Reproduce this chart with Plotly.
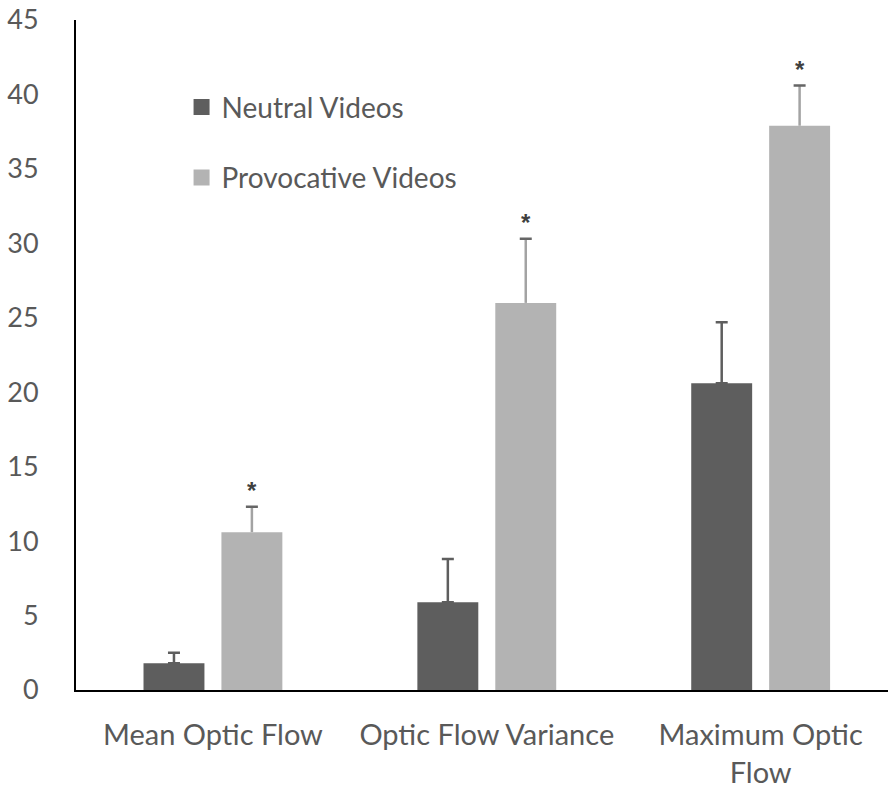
import plotly.graph_objects as go

categories = ["Mean Optic Flow", "Optic Flow Variance", "Maximum Optic<br>Flow"]
neutral_vals = [1.8, 5.9, 20.6]
neutral_err = [0.7, 2.9, 4.1]
provoc_vals = [10.6, 26.0, 37.9]
provoc_err = [1.7, 4.3, 2.7]
sig_marks = ["*", "*", "*"]
y_ticks = [0, 5, 10, 15, 20, 25, 30, 35, 40, 45]

FONT = "Lato"
TXT = "#595959"
C_NEU = "#5e5e5e"
C_PRO = "#b3b3b3"

fig = go.Figure()
fig.add_trace(go.Bar(
    name="Neutral Videos", x=categories, y=neutral_vals, offsetgroup="a",
    marker=dict(color=C_NEU, line=dict(width=0)),
    error_y=dict(type="data", array=neutral_err, symmetric=False, arrayminus=[0]*3,
                 color=C_NEU, thickness=2.5, width=6),
    showlegend=False, hoverinfo="skip",
))
fig.add_trace(go.Bar(
    name="Provocative Videos", x=categories, y=provoc_vals, offsetgroup="b",
    marker=dict(color=C_PRO, line=dict(width=0)),
    error_y=dict(type="data", array=provoc_err, symmetric=False, arrayminus=[0]*3,
                 color="#a3a3a3", thickness=2.5, width=0),
    showlegend=False, hoverinfo="skip",
))
# dark caps on top of the provocative error stems
fig.add_trace(go.Bar(
    x=categories, y=[v + e for v, e in zip(provoc_vals, provoc_err)], offsetgroup="b",
    marker=dict(color="rgba(0,0,0,0)", line=dict(width=0)),
    error_y=dict(type="data", array=[0]*3, color="#666666", thickness=2.5, width=6),
    showlegend=False, hoverinfo="skip",
))
# legend entries
fig.add_trace(go.Scatter(x=[None], y=[None], mode="markers", name="Neutral Videos",
                         marker=dict(symbol="square", size=16, color=C_NEU), legendgroup="a"))
fig.add_trace(go.Scatter(x=[None], y=[None], mode="markers", name="Provocative Videos",
                         marker=dict(symbol="square", size=16, color=C_PRO), legendgroup="b"))

for i, c in enumerate(categories):
    fig.add_annotation(x=c, y=provoc_vals[i] + provoc_err[i], text="<b>" + sig_marks[i] + "</b>",
                       showarrow=False, yshift=16, xshift=39,
                       font=dict(family="Liberation Sans", size=24, color="#404040"))

fig.update_layout(
    width=888, height=789,
    margin=dict(l=76, r=0, t=20, b=96),
    paper_bgcolor="white", plot_bgcolor="white",
    barmode="group", bargap=0.431, bargroupgap=0.218,
    font=dict(family=FONT, size=28, color=TXT),
    showlegend=True,
    legend=dict(x=0.13, y=0.907, xanchor="left", yanchor="top",
                traceorder="grouped", tracegroupgap=31,
                font=dict(family=FONT, size=28, color=TXT),
                bgcolor="rgba(0,0,0,0)", itemwidth=30),
    xaxis=dict(range=[-0.5, 2.465], showline=True, linecolor="black", linewidth=2,
               ticks="", showgrid=False, zeroline=False,
               tickfont=dict(family=FONT, size=29, color=TXT), ticklabelstandoff=18),
    yaxis=dict(range=[0, 45], tickvals=y_ticks, showline=True, linecolor="black",
               linewidth=2, ticks="", showgrid=False, zeroline=False,
               tickfont=dict(family=FONT, size=27, color=TXT), ticklabelstandoff=30),
)

fig.write_html("out.html", config={"displayModeBar": False},
               post_script="document.body.style.margin='0';document.body.style.overflow='hidden';")
